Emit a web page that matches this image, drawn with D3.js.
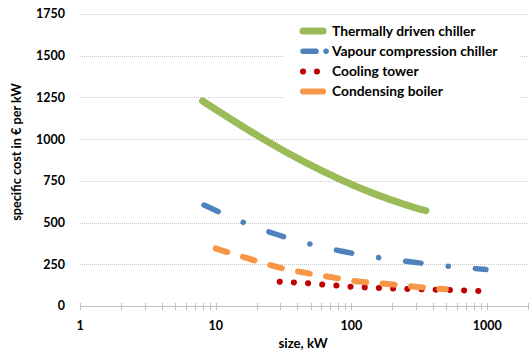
<!DOCTYPE html>
<html lang="en">
  <head>
    <meta charset="UTF-8" />
    <title>Specific cost per kW</title>
    <style>
      body { margin: 0; background: #fff; }
      svg text { font-family: Lato, "Open Sans", sans-serif; font-weight: bold; fill: #000; }
    </style>
    <script src="https://d3js.org/d3.v7.min.js"></script>
  </head>
  <body>
    <svg id="chart"></svg>
    <script>
      // values (size in kW, cost in EUR per kW)
      const thermalSize = [8, 22.4, 45.4, 82, 145, 255, 353];
      const thermalCost = [1229, 1001, 862, 760, 675, 605, 571];

      const vapourSize = [8.2, 15.9, 27.9, 49, 89, 159, 290, 524, 980];
      const vapourCost = [605, 502, 430, 372, 325, 290, 262, 238, 219];

      const towerSize = [29.6, 47.7, 98.6, 160, 327, 527, 868];
      const towerCost = [146, 136, 116, 108, 100, 96, 90];

      const boilerSize = [10, 17.3, 27.7, 71.7, 115, 185, 293, 496];
      const boilerCost = [345, 285, 236, 172, 146, 132, 116, 100];

      const xTicks = [1, 10, 100, 1000];
      const yTicks = [0, 250, 500, 750, 1000, 1250, 1500, 1750];

      const series = [
        { name: "Thermally driven chiller", x: thermalSize, y: thermalCost, color: "#9bbb59", width: 7, dash: null },
        { name: "Vapour compression chiller", x: vapourSize, y: vapourCost, color: "#4f81bd", width: 5.5, dash: "15.5,27.3,0.1,27.2" },
        { name: "Cooling tower", x: towerSize, y: towerCost, color: "#c00000", width: 6, dash: "0.1,14.1" },
        { name: "Condensing boiler", x: boilerSize, y: boilerCost, color: "#f79646", width: 6, dash: "12,16.5" },
      ];

      const width = 529, height = 352;
      const plotLeft = 80, plotRight = 528, plotTop = 14, plotBottom = 306;

      const svg = d3.select("#chart").attr("width", width).attr("height", height);

      const x = d3.scaleLog().domain([1, 2000]).range([plotLeft, plotRight]);
      const y = d3.scaleLinear().domain([0, 1750]).range([plotBottom, plotTop]);

      // grid
      svg.append("g")
        .selectAll("line")
        .data(yTicks.filter((d) => d > 0))
        .join("line")
        .attr("x1", plotLeft).attr("x2", plotRight)
        .attr("y1", (d) => Math.round(y(d)) + 0.5).attr("y2", (d) => Math.round(y(d)) + 0.5)
        .attr("stroke", "#c8c8c8").attr("stroke-width", 1)
        .attr("stroke-dasharray", "1,1");

      // x axis line + ticks
      svg.append("line")
        .attr("x1", plotLeft).attr("x2", plotRight)
        .attr("y1", plotBottom + 0.5).attr("y2", plotBottom + 0.5)
        .attr("stroke", "#bfbfbf");

      const minor = [];
      for (let dec = 1; dec <= 1000; dec *= 10) {
        for (let k = 1; k <= 9; k++) minor.push(dec * k);
      }
      svg.append("g")
        .selectAll("line")
        .data(minor)
        .join("line")
        .attr("x1", (d) => Math.round(x(d)) + 0.5).attr("x2", (d) => Math.round(x(d)) + 0.5)
        .attr("y1", plotBottom - 3).attr("y2", plotBottom + 4)
        .attr("stroke", "#bfbfbf");

      svg.append("g")
        .selectAll("text")
        .data(xTicks)
        .join("text")
        .attr("x", (d) => x(d))
        .attr("y", 326)
        .attr("dy", "0.35em")
        .attr("text-anchor", "middle")
        .attr("font-size", 12.5)
        .text((d) => d);

      svg.append("g")
        .selectAll("text")
        .data(yTicks)
        .join("text")
        .attr("x", 65)
        .attr("y", (d) => y(d))
        .attr("dy", "0.35em")
        .attr("text-anchor", "end")
        .attr("font-size", 12.5)
        .text((d) => d);

      svg.append("text")
        .attr("x", 303).attr("y", 343).attr("dy", "0.35em")
        .attr("text-anchor", "middle").attr("font-size", 13.2)
        .text("size, kW");

      svg.append("text")
        .attr("transform", "translate(17,152) rotate(-90)")
        .attr("dy", "0.35em")
        .attr("text-anchor", "middle").attr("font-size", 12.7)
        .text("specific cost in € per kW");

      // legend background covers the grid
      svg.append("rect")
        .attr("x", 284).attr("y", 19).attr("width", 236).attr("height", 86)
        .attr("fill", "#fff");

      const line = d3.line().curve(d3.curveMonotoneX).x((d) => x(d[0])).y((d) => y(d[1]));

      svg.append("g")
        .selectAll("path")
        .data(series)
        .join("path")
        .attr("d", (s) => line(s.x.map((v, i) => [v, s.y[i]])))
        .attr("fill", "none")
        .attr("stroke", (s) => s.color)
        .attr("stroke-width", (s) => s.width)
        .attr("stroke-linecap", "round")
        .attr("stroke-dasharray", (s) => s.dash);

      // legend
      const legend = svg.append("g")
        .selectAll("g")
        .data(series)
        .join("g")
        .attr("transform", (s, i) => `translate(0,${31 + i * 20.2})`);

      legend.append("path")
        .attr("d", (s, i) => (i === 1 ? "M303,0H316M326,0H326.1" : i === 2 ? "M303,0H317" : "M303,0H323"))
        .attr("stroke", (s) => s.color)
        .attr("stroke-width", (s) => s.width)
        .attr("stroke-linecap", "round")
        .attr("stroke-dasharray", (s, i) => (i === 2 ? "0.1,13.8" : null));

      legend.append("text")
        .attr("x", 332).attr("dy", "0.35em")
        .attr("font-size", 13.8)
        .text((s) => s.name);
    </script>
  </body>
</html>
